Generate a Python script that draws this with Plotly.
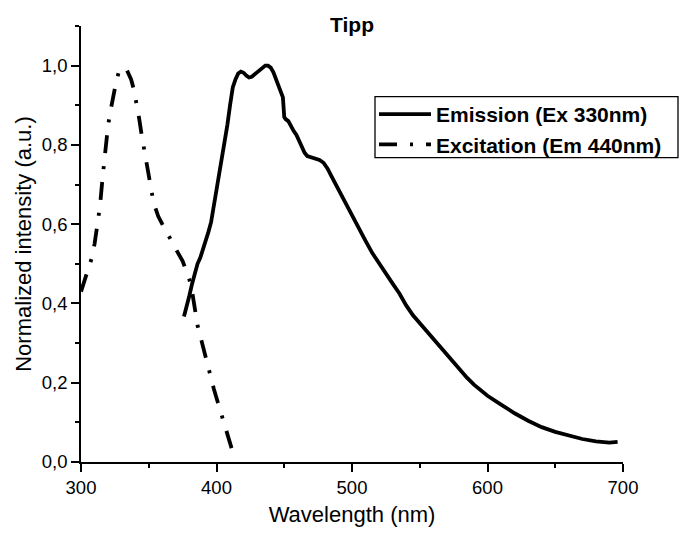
import plotly.graph_objects as go

# Emission (Ex 330nm)
em_wl = [376, 378, 380, 382, 384, 386, 388, 390, 392, 394, 396, 398, 400, 402, 404, 406, 408, 410,
         412, 414, 416, 418, 420, 422, 424, 426, 428, 430, 432, 434, 436, 438, 440, 442, 444, 446,
         448, 449, 450, 451, 453, 455, 457, 459, 461, 463, 465, 467, 470, 473, 476, 479, 482, 485,
         488, 491, 494, 497, 500, 505, 510, 515, 520, 525, 530, 535, 540, 545, 550, 555, 560, 565,
         570, 575, 580, 585, 590, 595, 600, 610, 620, 630, 640, 650, 660, 670, 680, 690, 696]
em_int = [0.367, 0.39, 0.42, 0.45, 0.475, 0.50, 0.515, 0.535, 0.556, 0.58, 0.605, 0.645, 0.69, 0.73,
          0.77, 0.81, 0.85, 0.90, 0.945, 0.965, 0.98, 0.985, 0.982, 0.975, 0.97, 0.972, 0.978, 0.985,
          0.99, 0.997, 1.0, 1.0, 0.995, 0.983, 0.965, 0.945, 0.93, 0.92, 0.87, 0.865, 0.86, 0.845,
          0.835, 0.825, 0.81, 0.795, 0.78, 0.772, 0.768, 0.765, 0.762, 0.755, 0.74, 0.72, 0.70, 0.68,
          0.665, 0.645, 0.625, 0.59, 0.558, 0.527, 0.50, 0.475, 0.45, 0.425, 0.395, 0.37, 0.35, 0.33,
          0.31, 0.29, 0.27, 0.25, 0.23, 0.212, 0.195, 0.18, 0.167, 0.145, 0.123, 0.104, 0.088, 0.076,
          0.066, 0.058, 0.052, 0.049, 0.051]

# Excitation (Em 440nm)
ex_wl = [300, 303, 306, 308, 310, 312, 314, 316, 318, 320, 322, 324, 326, 328, 330, 333, 335, 337,
         339, 341, 343, 345, 347, 349, 351, 353, 355, 357, 360, 363, 366, 369, 372, 375, 378, 380,
         382, 384, 386, 389, 392, 395, 398, 401, 404, 407, 410, 412, 414]
ex_int = [0.43, 0.46, 0.49, 0.515, 0.55, 0.60, 0.645, 0.72, 0.79, 0.85, 0.89, 0.93, 0.96, 0.985,
          0.99, 0.995, 0.98, 0.965, 0.94, 0.905, 0.865, 0.82, 0.78, 0.74, 0.70, 0.665, 0.64, 0.62,
          0.60, 0.58, 0.56, 0.54, 0.525, 0.507, 0.48, 0.46, 0.43, 0.39, 0.345, 0.305, 0.265, 0.22,
          0.185, 0.15, 0.115, 0.08, 0.045, 0.025, 0.012]

x_ticks = [300, 400, 500, 600, 700]
y_ticks = [0.0, 0.2, 0.4, 0.6, 0.8, 1.0]

FONT = "Liberation Sans, Arial, sans-serif"

# plot-area geometry in pixels (for paper-coordinate placement of legend and its frame)
L, R, T, B = 81, 60, 26, 71
W, H = 683, 533
PW, PH = W - L - R, H - T - B


def px_x(p):
    return (p - L) / PW


def px_y(p):
    return (H - B - p) / PH


fig = go.Figure()
fig.add_trace(go.Scatter(x=em_wl, y=em_int, mode="lines", name="<b>Emission (Ex 330nm)</b>",
                         line=dict(color="black", width=3.8)))
fig.add_trace(go.Scatter(x=ex_wl, y=ex_int, mode="lines", name="<b>Excitation (Em 440nm)</b>",
                         line=dict(color="black", width=3.8, dash="18px,13px,3px,13px")))

axis_common = dict(showline=True, linecolor="black", linewidth=1.6, mirror=False,
                   showgrid=False, zeroline=False, ticks="outside", ticklen=8, tickwidth=1.6,
                   tickcolor="black", tickfont=dict(family=FONT, size=18.5, color="black"))

fig.update_layout(
    width=W, height=H,
    margin=dict(l=L, r=R, t=T, b=B, autoexpand=False),
    paper_bgcolor="white", plot_bgcolor="white",
    separators=",.",
    font=dict(family=FONT, color="black"),
    title=dict(text="<b>Tipp</b>", x=(L + PW / 2) / W, xanchor="center", y=1 - 25 / H,
               yanchor="middle", font=dict(family=FONT, size=21, color="black")),
    xaxis=dict(range=[300, 700], tickvals=x_ticks,
               minor=dict(ticks="outside", ticklen=4, tickwidth=1.6, dtick=50, tick0=300, tickcolor="black"),
               title=dict(text="Wavelength (nm)", font=dict(family=FONT, size=22, color="black"), standoff=10),
               **axis_common),
    yaxis=dict(range=[0, 1.1], tickvals=y_ticks, tickformat=".1f",
               minor=dict(ticks="outside", ticklen=4, tickwidth=1.6, dtick=0.1, tick0=0, tickcolor="black"),
               title=dict(text="Normalized intensity (a.u.)", font=dict(family=FONT, size=22, color="black"), standoff=4),
               **axis_common),
    legend=dict(x=px_x(374), y=px_y(94), xanchor="left", yanchor="top",
                borderwidth=0, bgcolor="rgba(0,0,0,0)",
                font=dict(family=FONT, size=21, color="black"), itemwidth=52, tracegroupgap=0),
    shapes=[dict(type="rect", xref="paper", yref="paper",
                 x0=px_x(375), x1=px_x(678), y0=px_y(157.7), y1=px_y(96.7),
                 line=dict(color="black", width=1.3), fillcolor="rgba(0,0,0,0)", layer="above")],
    showlegend=True,
)

fig.write_html("out.html", config={"displayModeBar": False},
               post_script="document.body.style.margin='0';document.body.style.overflow='hidden';")
